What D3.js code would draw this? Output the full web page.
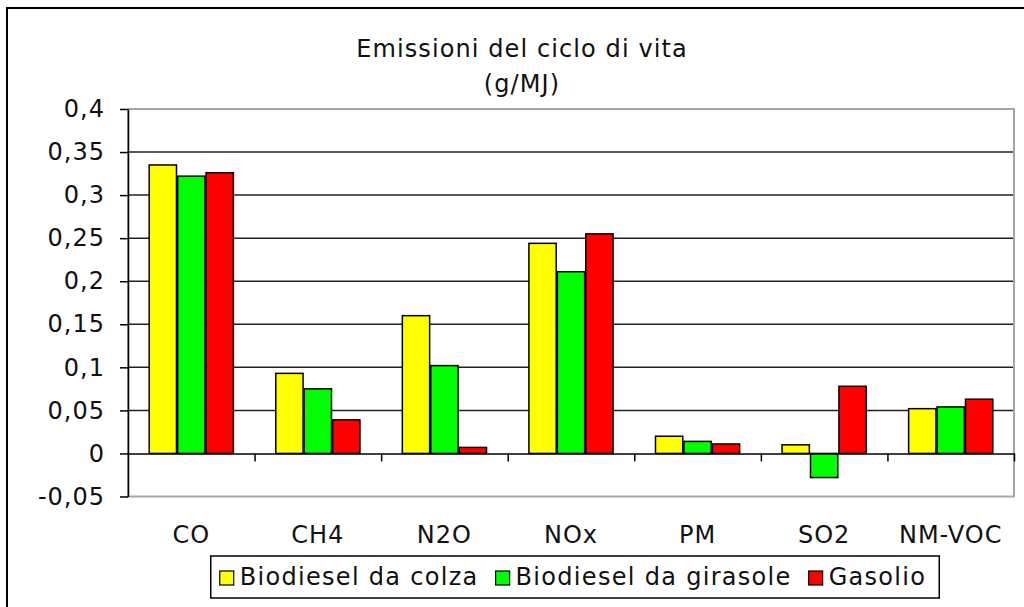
<!DOCTYPE html>
<html>
<head>
<meta charset="utf-8">
<script src="https://cdn.jsdelivr.net/npm/d3@7"></script>
<style>
  body { margin: 0; background: #fff; }
  svg { display: block; font-family: "DejaVu Sans", Verdana, sans-serif; }
</style>
</head>
<body>
<svg id="chart"></svg>
<script>
// values (g/MJ)
const categories = ["CO", "CH4", "N2O", "NOx", "PM", "SO2", "NM-VOC"];
const colza = [0.335, 0.093, 0.160, 0.244, 0.020, 0.010, 0.052];
const girasole = [0.322, 0.075, 0.102, 0.211, 0.014, -0.028, 0.054];
const gasolio = [0.326, 0.039, 0.007, 0.255, 0.011, 0.078, 0.063];
const seriesNames = ["Biodiesel da colza", "Biodiesel da girasole", "Gasolio"];
const seriesColors = ["#ffff00", "#00ff00", "#ff0000"];
const yTicks = [-0.05, 0, 0.05, 0.1, 0.15, 0.2, 0.25, 0.3, 0.35, 0.4];
const titleLines = ["Emissioni del ciclo di vita", "(g/MJ)"];

const width = 1024, height = 607;
let margin = ({top: 109, right: 10, bottom: 110, left: 128});

const seriesData = [colza, girasole, gasolio];
const dataSet = categories.map((c, i) => ({
  cat: c,
  values: seriesNames.map((s, j) => ({series: s, value: seriesData[j][i], color: seriesColors[j]}))
}));

const svg = d3.select("#chart")
  .attr("width", width)
  .attr("height", height);

// outer chart frame
svg.append("rect")
  .attr("x", 7).attr("y", 8)
  .attr("width", 1040).attr("height", 620)
  .attr("fill", "#fff")
  .attr("stroke", "#000")
  .attr("stroke-width", 2);

let x0 = d3.scaleBand()
  .domain(categories)
  .range([margin.left, width - margin.right])
  .paddingInner(0).paddingOuter(0);

let bw = x0.bandwidth();
let gw = bw * 0.665;
let x1 = d3.scaleBand()
  .domain(seriesNames)
  .range([(bw - gw) / 2, (bw + gw) / 2])
  .paddingInner(0.04);

let y = d3.scaleLinear()
  .domain([-0.05, 0.4])
  .range([height - margin.bottom - 0.5, margin.top]);

const fmt = d => String(d).replace(".", ",");

// gridlines
svg.append("g")
  .selectAll("line")
  .data(yTicks.filter(d => d > 0 && d < 0.4))
  .join("line")
    .attr("x1", margin.left).attr("x2", width - margin.right)
    .attr("y1", d => y(d)).attr("y2", d => y(d))
    .attr("stroke", "#222")
    .attr("stroke-width", 1.5);

// plot area border (grey)
svg.append("rect")
  .attr("x", margin.left).attr("y", y(0.4))
  .attr("width", width - margin.right - margin.left)
  .attr("height", y(-0.05) - y(0.4))
  .attr("fill", "none")
  .attr("stroke", "#a6a6a6")
  .attr("stroke-width", 2);

// bars
svg.append("g")
  .selectAll("g")
  .data(dataSet)
  .join("g")
    .attr("transform", d => `translate(${x0(d.cat)},0)`)
  .selectAll("rect")
  .data(d => d.values)
  .join("rect")
    .attr("x", d => x1(d.series))
    .attr("y", d => y(Math.max(0, d.value)))
    .attr("width", x1.bandwidth())
    .attr("height", d => Math.abs(y(d.value) - y(0)))
    .attr("fill", d => d.color)
    .attr("stroke", "#000")
    .attr("stroke-width", 1.5);

// y axis
let yAxis = g => g
  .attr("transform", `translate(${margin.left},0)`)
  .call(d3.axisLeft(y).tickValues(yTicks).tickFormat(fmt).tickSize(8).tickSizeOuter(0).tickPadding(15))
  .call(g => g.select(".domain").attr("stroke", "#000").attr("stroke-width", 1.5))
  .call(g => g.selectAll(".tick line").attr("stroke", "#000").attr("stroke-width", 1.5))
  .call(g => g.selectAll(".tick text")
    .attr("font-size", 24)
    .attr("letter-spacing", 1)
    .attr("fill", "#111")
    .attr("font-family", "DejaVu Sans"));

svg.append("g").call(yAxis);

// x axis at zero, ticks between categories
let xb = d3.scaleLinear()
  .domain([0, categories.length])
  .range([margin.left, width - margin.right]);

let xAxis = g => g
  .attr("transform", `translate(0,${y(0)})`)
  .call(d3.axisBottom(xb).tickValues(d3.range(1, categories.length + 1)).tickFormat("").tickSize(8).tickSizeOuter(0))
  .call(g => g.select(".domain").attr("stroke", "#000").attr("stroke-width", 1.5))
  .call(g => g.selectAll(".tick line").attr("stroke", "#000").attr("stroke-width", 1.5));

svg.append("g").call(xAxis);

// category labels
svg.append("g")
  .selectAll("text")
  .data(categories)
  .join("text")
    .attr("x", d => x0(d) + bw / 2)
    .attr("y", 543)
    .attr("text-anchor", "middle")
    .attr("font-size", 24)
    .attr("letter-spacing", 1)
    .attr("fill", "#111")
    .text(d => d);

// title
svg.append("g")
  .selectAll("text")
  .data(titleLines)
  .join("text")
    .attr("x", 522)
    .attr("y", (d, i) => 57 + i * 35)
    .attr("text-anchor", "middle")
    .attr("font-size", 24)
    .attr("letter-spacing", 1.1)
    .attr("fill", "#111")
    .text(d => d);

// legend
const legend = svg.append("g");
const legendBox = legend.append("rect")
  .attr("fill", "#fff")
  .attr("stroke", "#000")
  .attr("stroke-width", 1.5);

let cx = 0;
seriesNames.forEach((s, i) => {
  let item = legend.append("g").attr("transform", `translate(${cx},0)`);
  item.append("rect")
    .attr("x", 0).attr("y", 571)
    .attr("width", 14).attr("height", 14)
    .attr("fill", seriesColors[i])
    .attr("stroke", "#000")
    .attr("stroke-width", 1.2);
  let t = item.append("text")
    .attr("x", 20).attr("y", 585)
    .attr("font-size", 24)
    .attr("letter-spacing", 1.3)
    .attr("fill", "#111")
    .text(s);
  cx += 20 + t.node().getComputedTextLength() + 17;
});
let legendW = cx - 17;
let legendX = (margin.left + width - margin.right) / 2 - legendW / 2 + 2;
legend.selectAll("g").attr("transform", function() {
  let tr = d3.select(this).attr("transform").match(/translate\(([-\d.]+)/);
  return `translate(${+tr[1] + legendX},0)`;
});
legendBox
  .attr("x", legendX - 9).attr("y", 556)
  .attr("width", legendW + 22).attr("height", 42);
</script>
</body>
</html>
